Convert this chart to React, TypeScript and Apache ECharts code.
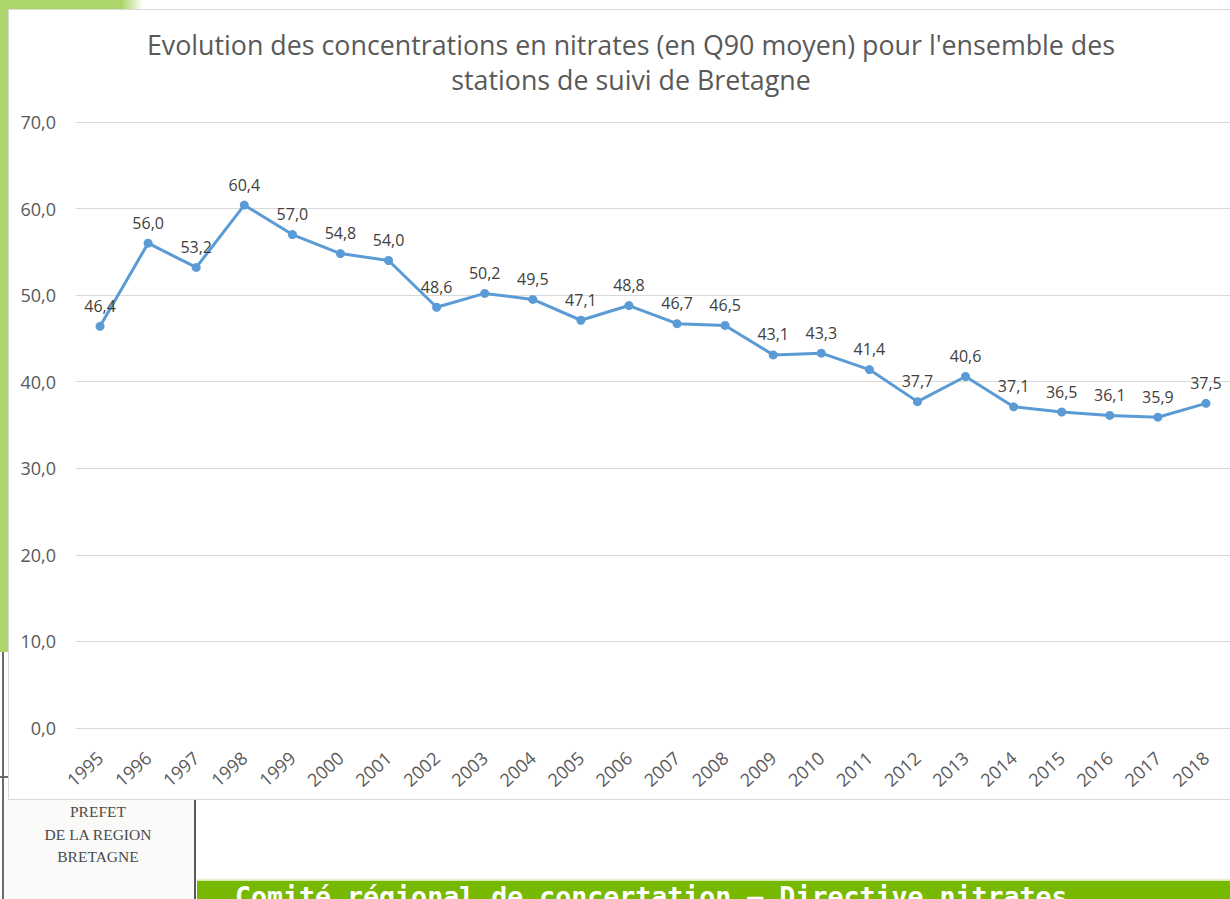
import React, { useEffect, useRef } from "react";
import * as echarts from "echarts";

const years = ["1995","1996","1997","1998","1999","2000","2001","2002","2003","2004","2005","2006","2007","2008","2009","2010","2011","2012","2013","2014","2015","2016","2017","2018"];
const q90 = [46.4,56.0,53.2,60.4,57.0,54.8,54.0,48.6,50.2,49.5,47.1,48.8,46.7,46.5,43.1,43.3,41.4,37.7,40.6,37.1,36.5,36.1,35.9,37.5];
const titleLines = ["Evolution des concentrations en nitrates (en Q90 moyen) pour l'ensemble des", "stations de suivi de Bretagne"];
const footerText = "Comité régional de concertation – Directive nitrates";
const logoLines = ["PREFET", "DE LA REGION", "BRETAGNE"];

const fmt = (v: number) => v.toFixed(1).replace(".", ",");

export default function App() {
  const ref = useRef<HTMLDivElement>(null);
  useEffect(() => {
    document.body.style.margin = "0";
    const chart = echarts.init(ref.current!, null, { renderer: "svg" });
    chart.setOption({
      animation: false,
      backgroundColor: "#ffffff",
      graphic: [
        {
          type: "text",
          x: 622,
          y: 34,
          style: { text: titleLines[0], fill: "#595959", font: "26.8px 'Open Sans'", textAlign: "center", textVerticalAlign: "middle" },
        },
        {
          type: "text",
          x: 622,
          y: 69,
          style: { text: titleLines[1], fill: "#595959", font: "26.8px 'Open Sans'", textAlign: "center", textVerticalAlign: "middle" },
        },
      ],
      grid: { left: 67, top: 112, height: 606, width: 1160.4, containLabel: false },
      xAxis: {
        type: "category",
        data: years,
        boundaryGap: true,
        axisLine: { show: true, lineStyle: { color: "#d9d9d9", width: 1 } },
        axisTick: { show: false },
        axisLabel: { rotate: 42, margin: 27, color: "#595959", fontSize: 18, fontFamily: "Open Sans", interval: 0 },
      },
      yAxis: {
        type: "value",
        min: 0,
        max: 70,
        interval: 10,
        axisLine: { show: false },
        axisTick: { show: false },
        splitLine: { lineStyle: { color: "#d9d9d9", width: 1 } },
        axisLabel: { margin: 20, color: "#595959", fontSize: 18, fontFamily: "Open Sans", formatter: (v: number) => fmt(v) },
      },
      series: [
        {
          type: "line",
          data: q90,
          symbol: "circle",
          symbolSize: 9,
          lineStyle: { color: "#5b9bd5", width: 3 },
          itemStyle: { color: "#5b9bd5" },
          label: {
            show: true,
            position: "top",
            distance: 8,
            color: "#404040",
            fontSize: 16,
            fontFamily: "Open Sans",
            formatter: (p: any) => fmt(p.value),
          },
        },
      ],
    });
    return () => chart.dispose();
  }, []);

  return (
    <div style={{ position: "fixed", left: 0, top: 0, width: 1230, height: 899, background: "#ffffff", overflow: "hidden" }}>
      <div style={{ position: "absolute", left: 0, top: 0, width: 143, height: 9, background: "linear-gradient(to right, #acd56b 85%, #ffffff)" }} />
      <div style={{ position: "absolute", left: 0, top: 0, width: 8, height: 652, background: "#acd56b" }} />
      <div style={{ position: "absolute", left: 2, top: 652, width: 2, height: 247, background: "#6b6b6b" }} />
      <div style={{ position: "absolute", left: 0, top: 776, width: 8, height: 2, background: "#6b6b6b" }} />
      <div style={{ position: "absolute", left: 4, top: 800, width: 191, height: 99, background: "#fafaf8" }} />
      <div style={{ position: "absolute", left: 194, top: 800, width: 2, height: 99, background: "#5a5a5a" }} />
      <div style={{ position: "absolute", left: 10, top: 801, width: 176, textAlign: "center", fontFamily: "'Liberation Serif', serif", fontSize: 15.5, lineHeight: "22.5px", color: "#4a4a4a" }}>
        {logoLines.map((l) => (<div key={l}>{l}</div>))}
      </div>
      <div style={{ position: "absolute", left: 197, top: 878, width: 1033, height: 3, background: "linear-gradient(#ffffff, #cfe7a0)" }} />
      <div style={{ position: "absolute", left: 197, top: 881, width: 1033, height: 18, background: "#76b900", overflow: "hidden" }}>
        <div style={{ position: "absolute", left: 38, top: 0, whiteSpace: "nowrap", fontFamily: "'DejaVu Sans Mono', monospace", fontWeight: "bold", fontSize: 26.6, lineHeight: "32px", color: "#ffffff" }}>
          {footerText}
        </div>
      </div>
      <div style={{ position: "absolute", left: 8, top: 9, width: 1223, height: 791, border: "1px solid #d9d9d9", boxSizing: "border-box", background: "#ffffff" }} />
      <div ref={ref} style={{ position: "absolute", left: 9, top: 10, width: 1221, height: 789 }} />
    </div>
  );
}
